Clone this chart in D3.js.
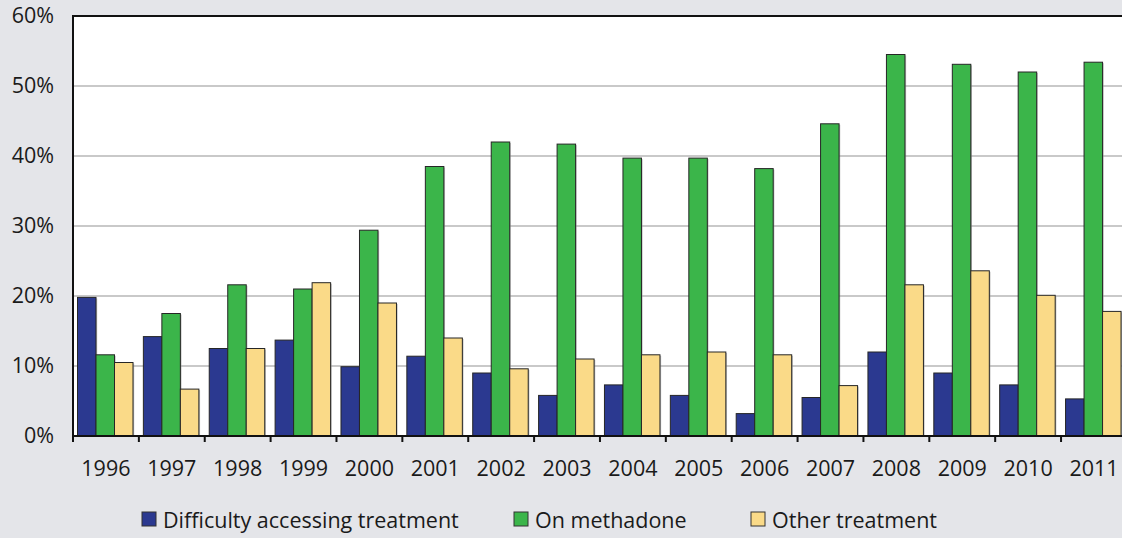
<!DOCTYPE html>
<html>
<head>
<meta charset="utf-8">
<script src="https://cdn.jsdelivr.net/npm/d3@7"></script>
<style>
  html, body { margin: 0; padding: 0; background: #e4e5e9; }
  svg { display: block; font-family: "Open Sans", sans-serif; }
</style>
</head>
<body>
<svg width="1122" height="538"></svg>
<script>
var years = ["1996", "1997", "1998", "1999", "2000", "2001", "2002", "2003",
             "2004", "2005", "2006", "2007", "2008", "2009", "2010", "2011"];
var seriesNames = ["Difficulty accessing treatment", "On methadone", "Other treatment"];
var seriesColors = ["#2b3990", "#3bb54a", "#fada88"];

var difficulty = [19.8, 14.2, 12.5, 13.7, 9.9, 11.4, 9.0, 5.8, 7.3, 5.8, 3.2, 5.5, 12.0, 9.0, 7.3, 5.3];
var methadone  = [11.6, 17.5, 21.6, 21.0, 29.4, 38.5, 42.0, 41.7, 39.7, 39.7, 38.2, 44.6, 54.5, 53.1, 52.0, 53.4];
var other      = [10.5, 6.7, 12.5, 21.9, 19.0, 14.0, 9.6, 11.0, 11.6, 12.0, 11.6, 7.2, 21.6, 23.6, 20.1, 17.8];

var yTicks = [0, 10, 20, 30, 40, 50, 60];

function drawChart() {
  var svg = d3.select("svg");
  var width = +svg.attr("width");

  var plotLeft = 73, plotTop = 16, plotBottom = 436;
  var band = 65.87;
  var fontSize = "21.5px";

  var x0 = d3.scaleBand()
    .domain(years)
    .range([plotLeft, plotLeft + band * years.length])
    .padding(0);

  var x1 = d3.scaleBand()
    .domain(seriesNames)
    .range([4.5, 60]);

  var y = d3.scaleLinear()
    .domain([0, 60])
    .range([plotBottom, plotTop]);

  var data = years.map(function(yr, i) {
    return { year: yr, values: [difficulty[i], methadone[i], other[i]] };
  });

  // plot background
  svg.append("rect")
    .attr("x", plotLeft).attr("y", plotTop)
    .attr("width", width - plotLeft).attr("height", plotBottom - plotTop)
    .attr("fill", "#ffffff");

  // gridlines
  svg.append("g")
    .selectAll("line")
    .data(yTicks.filter(d => d > 0 && d < 60))
    .enter()
    .append("line")
      .attr("x1", plotLeft).attr("x2", width)
      .attr("y1", d => y(d)).attr("y2", d => y(d))
      .attr("stroke", "#c9c9c9")
      .attr("stroke-width", 2);

  // bars
  var groups = svg.append("g")
    .selectAll("g")
    .data(data)
    .enter()
    .append("g")
      .attr("transform", d => "translate(" + x0(d.year) + ",0)");

  var bars = groups.selectAll("g")
    .data(d => d.values.map((v, j) => ({ key: seriesNames[j], value: v, color: seriesColors[j] })))
    .enter()
    .append("g");

  // faint drop shadow
  bars.append("rect")
    .attr("x", d => x1(d.key) + 1.2)
    .attr("y", d => y(d.value) + 1)
    .attr("width", x1.bandwidth())
    .attr("height", d => plotBottom - y(d.value) - 1)
    .attr("fill", "#9a9a9a")
    .attr("opacity", 0.6);

  bars.append("rect")
    .attr("x", d => x1(d.key))
    .attr("y", d => y(d.value))
    .attr("width", x1.bandwidth())
    .attr("height", d => plotBottom - y(d.value))
    .attr("fill", d => d.color)
    .attr("stroke", "#262626")
    .attr("stroke-width", 1);

  // frame: top and left
  svg.append("line")
    .attr("x1", plotLeft).attr("x2", width)
    .attr("y1", plotTop).attr("y2", plotTop)
    .attr("stroke", "#111").attr("stroke-width", 2);

  svg.append("line")
    .attr("x1", plotLeft).attr("x2", plotLeft)
    .attr("y1", plotTop - 1).attr("y2", plotBottom)
    .attr("stroke", "#111").attr("stroke-width", 2);

  // x axis
  var gx = svg.append("g")
    .attr("transform", "translate(0," + plotBottom + ")");

  gx.append("line")
    .attr("x1", plotLeft - 1).attr("x2", width)
    .attr("y1", 0).attr("y2", 0)
    .attr("stroke", "#111").attr("stroke-width", 2);

  gx.selectAll(".tickmark")
    .data(years)
    .enter()
    .append("line")
      .attr("class", "tickmark")
      .attr("x1", d => x0(d)).attr("x2", d => x0(d))
      .attr("y1", 0).attr("y2", 6)
      .attr("stroke", "#111").attr("stroke-width", 2);

  gx.selectAll(".xlabel")
    .data(years)
    .enter()
    .append("text")
      .attr("class", "xlabel")
      .attr("x", d => x0(d) + x0.bandwidth() / 2)
      .attr("y", 476 - plotBottom)
      .attr("text-anchor", "middle")
      .attr("fill", "#1a1a1a")
      .style("font-size", fontSize)
      .text(d => d);

  // y axis labels
  var yAxis = d3.axisLeft(y).tickValues(yTicks).tickSize(0).tickPadding(0)
    .tickFormat(d => d + "%");
  var gy = svg.append("g")
    .attr("transform", "translate(54,0)")
    .call(yAxis);
  gy.select(".domain").remove();
  gy.selectAll("text")
    .attr("fill", "#1a1a1a")
    .style("font-size", fontSize)
    .style("font-family", "'Open Sans', sans-serif");

  // legend
  var legendX = [142, 514, 751];
  var legend = svg.append("g")
    .selectAll("g")
    .data(seriesNames)
    .enter()
    .append("g")
      .attr("transform", (d, i) => "translate(" + legendX[i] + ",512)");

  legend.append("rect")
    .attr("width", 14).attr("height", 14)
    .attr("fill", (d, i) => seriesColors[i])
    .attr("stroke", "#333").attr("stroke-width", 1);

  legend.append("text")
    .attr("x", 21).attr("y", 16)
    .attr("fill", "#1a1a1a")
    .style("font-size", fontSize)
    .text(d => d);
}

drawChart();
</script>
</body>
</html>
